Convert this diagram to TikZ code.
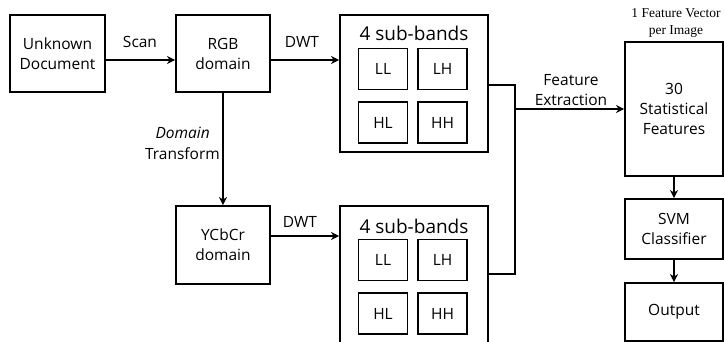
\documentclass[tikz,border=0pt]{standalone}
\usepackage{fontspec}
\setmainfont{Open Sans}
\newfontfamily\notefont{Liberation Serif}
\usetikzlibrary{arrows.meta}
\begin{document}
\begin{tikzpicture}[x=1pt,y=-1pt,
  box/.style={draw, line width=1.9pt, inner sep=0pt, align=center,
    font=\fontsize{15.5}{20}\selectfont},
  subband/.style={box, minimum width=49pt, minimum height=41pt},
  wire/.style={line width=1.9pt},
  arr/.style={wire, -{Stealth[length=8pt,width=8pt,inset=2.5pt]}},
  lbl/.style={font=\fontsize{15.5}{20}\selectfont, align=center, inner sep=0pt},
  title/.style={font=\fontsize{19}{22}\selectfont, inner sep=0pt},
  note/.style={font=\notefont\fontsize{13.5}{17}\selectfont, align=center, inner sep=0pt}]
\useasboundingbox (0,0) rectangle (724,342);

% input and colour-domain stages
\node[box, minimum width=95pt, minimum height=77pt] (doc) at (57.5,53.5) {Unknown\\Document};
\node[box, minimum width=94pt, minimum height=77pt] (rgb) at (223,53.5) {RGB\\domain};
\node[box, minimum width=94pt, minimum height=78pt] (ycc) at (223,245) {YCbCr\\domain};

% wavelet sub-band groups
\node[box, minimum width=148pt, minimum height=137pt] (bandA) at (414,83.5) {};
\node[title] (titleA) at (414,33) {4 sub-bands};
\node[subband] (llA) at (383,69) {LL};
\node[subband] (lhA) at (442.5,69) {LH};
\node[subband] (hlA) at (383,122.5) {HL};
\node[subband] (hhA) at (442.5,122.5) {HH};

\node[box, minimum width=148pt, minimum height=138pt] (bandB) at (414,275) {};
\node[title] (titleB) at (414,226) {4 sub-bands};
\node[subband] (llB) at (383,260) {LL};
\node[subband] (lhB) at (442.5,260) {LH};
\node[subband] (hlB) at (383,313.5) {HL};
\node[subband] (hhB) at (442.5,313.5) {HH};

% feature vector, classifier and result
\node[box, minimum width=98pt, minimum height=134pt] (stat) at (674,109) {30\\Statistical\\Features};
\node[note] (vecnote) at (676,23.5) {1 Feature Vector\\per Image};
\node[box, minimum width=98pt, minimum height=60pt] (svm) at (674,229) {SVM\\Classifier};
\node[box, minimum width=98pt, minimum height=58pt] (out) at (674,312) {Output};

% connectors
\draw[arr] (doc.east |- 0,60) -- (rgb.west |- 0,60);
\node[lbl] (scan) at (140,42) {Scan};
\draw[arr] (rgb.east |- 0,60) -- (bandA.west |- 0,60);
\node[lbl] (dwtA) at (302,42) {DWT};
\draw[arr] (rgb) -- (ycc);
\node[lbl, anchor=east] (domA) at (210,133) {\itshape Domain};
\node[lbl, anchor=east] (domB) at (220,154) {Transform};
\draw[arr] (ycc.east |- 0,236) -- (bandB.west |- 0,236);
\node[lbl] (dwtB) at (300,222) {DWT};

\coordinate (jt) at (515,85);
\coordinate (jb) at (515,274);
\coordinate (jm) at (515,109);
\draw[wire] (bandA.east |- jt) -- (jt) -- (jb) -- (bandB.east |- jb);
\draw[arr] (jm) -- (stat.west |- jm);
\node[lbl] (featx) at (571,90) {Feature\\Extraction};

\draw[arr] (stat) -- (svm);
\draw[arr] (svm) -- (out);
\end{tikzpicture}
\end{document}
